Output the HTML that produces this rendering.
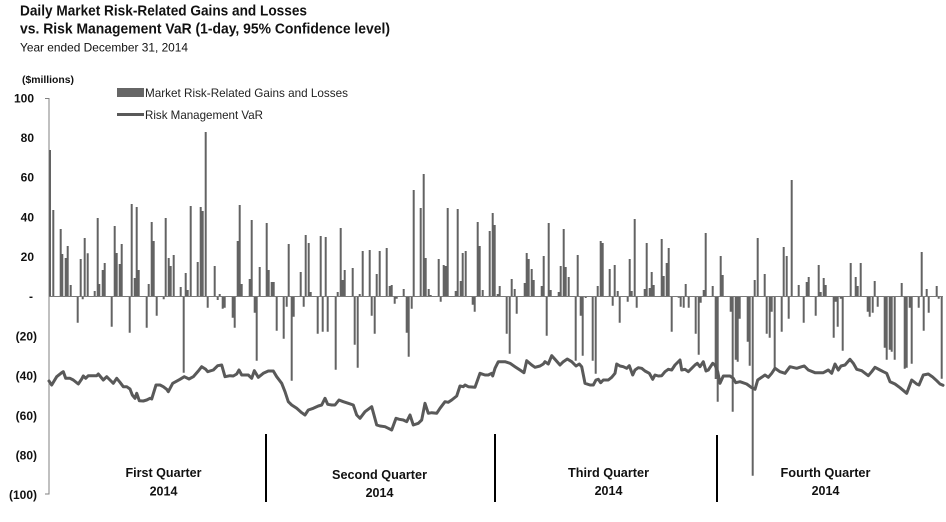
<!DOCTYPE html>
<html><head><meta charset="utf-8"><style>
html,body{margin:0;padding:0;background:#fff;}
svg{display:block;}
text{font-family:"Liberation Sans",Arial,sans-serif;}
</style></head><body>
<svg width="946" height="522" viewBox="0 0 946 522" xmlns="http://www.w3.org/2000/svg">
<rect width="946" height="522" fill="#fff"/>
<!-- Titles -->
<text x="20" y="15.5" font-size="14.5" font-weight="bold" fill="#111" textLength="287" lengthAdjust="spacingAndGlyphs">Daily Market Risk-Related Gains and Losses</text>
<text x="20" y="33.5" font-size="14.5" font-weight="bold" fill="#111" textLength="370" lengthAdjust="spacingAndGlyphs">vs. Risk Management VaR (1-day, 95% Confidence level)</text>
<text x="20" y="51.5" font-size="12" fill="#111" textLength="168" lengthAdjust="spacingAndGlyphs">Year ended December 31, 2014</text>
<text x="22" y="83" font-size="10" font-weight="bold" fill="#111" textLength="52" lengthAdjust="spacingAndGlyphs">($millions)</text>
<!-- Y labels -->
<g font-size="12" font-weight="bold" fill="#111" text-anchor="end">
<text x="34" y="102.5">100</text>
<text x="34" y="142">80</text>
<text x="34" y="181.5">60</text>
<text x="34" y="221.5">40</text>
<text x="34" y="261">20</text>
<text x="33" y="300.5">-</text>
<text x="37" y="340.5">(20)</text>
<text x="37" y="380">(40)</text>
<text x="37" y="420">(60)</text>
<text x="37" y="459.5">(80)</text>
<text x="37" y="499">(100)</text>
</g>
<!-- axis -->
<line x1="49" y1="98" x2="49" y2="494.5" stroke="#808080" stroke-width="1"/>
<line x1="45" y1="98.5" x2="49" y2="98.5" stroke="#808080" stroke-width="1"/>
<line x1="45" y1="494" x2="49" y2="494" stroke="#808080" stroke-width="1"/>
<!-- Legend -->
<rect x="117" y="88" width="27" height="9" fill="#666"/>
<text x="145" y="97" font-size="12" fill="#222" textLength="203" lengthAdjust="spacingAndGlyphs">Market Risk-Related Gains and Losses</text>
<line x1="117" y1="114.5" x2="144" y2="114.5" stroke="#595959" stroke-width="3"/>
<text x="145" y="119" font-size="12" fill="#222" textLength="118" lengthAdjust="spacingAndGlyphs">Risk Management VaR</text>
<!-- Bars -->
<path fill="none" stroke="#636363" stroke-width="2" d="
M50 296V150M53.3 296V210M60.7 296V229M62.3 296V254M65.7 296V258M67.7 296V246M70.7 296V285M77.7 296V322.7M80.7 296V259M82.7 296V299.3M84.7 296V238M87.7 296V253.3M94.7 296V291M97.7 296V218M99.3 296V284M102.7 296V270M104.7 296V263M111.7 296V326.7M114.7 296V226M116.7 296V253M119.7 296V264M121.7 296V244M129.7 296V332.7M131.7 296V204M134.7 296V278M136.7 296V207M138.7 296V270M146.7 296V327.7M148.7 296V284M151.7 296V222M153.7 296V241M156.7 296V315.7M163.7 296V299.3M165.7 296V218M168.7 296V258M170.7 296V266M173.7 296V255M180.7 296V287M183.7 296V372.7M185.7 296V273M187.7 296V290M190.7 296V206M197.7 296V262M200.7 296V207M202.7 296V211M205.7 296V132M207.7 296V307.7M214.7 296V266M217.7 296V300M219.7 296V294M222.7 296V308.7M224.7 296V307.7M232.7 296V317.7M234.7 296V327.7M237.7 296V241M239.7 296V205M241.7 296V284M249.7 296V279M251.7 296V220M254.7 296V312.7M256.7 296V360.7M259.7 296V267M266.7 296V223M268.7 296V270
M271.7 296V282M273.7 296V282M276.7 296V330.7M283.7 296V338.7M286.7 296V306.7M288.7 296V244M291.7 296V380.7M293.7 296V316.7M300.7 296V272M303.7 296V306.7M305.7 296V235M308.7 296V243M310.7 296V292M317.7 296V333.7M320.7 296V236M322.7 296V331.7M325.7 296V237M327.7 296V331.7M335.7 296V369.7M337.7 296V292M340.7 296V228M342.7 296V280M344.7 296V270M352.7 296V268M354.7 296V344.7M357.7 296V367.7M359.7 296V294M362.7 296V251M369.7 296V250M371.7 296V315.7M374.7 296V333.7M376.7 296V274M379.7 296V251M386.7 296V248M389.7 296V286M391.7 296V285M394.7 296V303.7M396.7 296V298.7M403.7 296V289M406.7 296V332.7M408.7 296V356.7M411.7 296V308.7M413.7 296V190M420.7 296V208M423.7 296V174M425.7 296V258M428.7 296V289M430.7 296V295M438.7 296V259M440.7 296V301.7M443.7 296V265M445.7 296V266M447.7 296V208M455.7 296V291M457.7 296V209M460.7 296V281M462.7 296V253M465.7 296V251M472.7 296V304.7M474.7 296V311.7M477.7 296V222M479.7 296V246M482.7 296V290M489.7 296V231M492.7 296V213M494.7 296V225
M497.7 296V294M499.7 296V286M506.7 296V333.7M509.7 296V353.7M511.7 296V279M514.7 296V289M516.7 296V313.7M524.7 296V283M526.7 296V253M528.7 296V259M531.7 296V269M533.7 296V280M541.7 296V286M543.7 296V256M546.7 296V335.7M548.7 296V223M550.7 296V290M558.7 296V292M560.7 296V266M563.7 296V229M565.7 296V267M568.7 296V277M575.7 296V360.7M577.7 296V255M580.7 296V315.7M582.7 296V355.7M585.7 296V298M592.7 296V360.7M595.7 296V373.7M597.7 296V286M600.7 296V241M602.7 296V243M609.7 296V269M612.7 296V305.7M614.7 296V265M617.7 296V291M619.7 296V322.7M627.7 296V301.7M629.7 296V259M631.7 296V291M634.7 296V219M636.7 296V307.7M644.7 296V289M646.7 296V243M649.7 296V288M651.7 296V272M653.7 296V285M661.7 296V239M663.7 296V276M666.7 296V263M668.7 296V248M671.7 296V331.7M678.7 296V297.7M680.7 296V306.7M683.7 296V307.7M685.7 296V284M688.7 296V307.7M695.7 296V333.7M698.7 296V354.7M700.7 296V302.7M703.7 296V290M705.7 296V233M712.7 296V286M715.7 296V379M717.7 296V401.7
M720.7 296V256M722.7 296V275M730.7 296V311.7M732.7 296V411.7M735.7 296V359.7M737.7 296V361.7M739.7 296V318.7M747.7 296V341.7M749.7 296V365.7M752.7 296V475.7M754.7 296V280M757.7 296V238M764.7 296V274M766.7 296V333.7M769.7 296V337.7M771.7 296V311.7M774.7 296V368.7M781.7 296V331.7M783.7 296V247M786.7 296V256M788.7 296V318.7M791.7 296V180M798.7 296V285M803.7 296V322.7M806.7 296V282M808.7 296V277M815.7 296V315.7M818.7 296V265M820.7 296V292M823.7 296V278M825.7 296V285M833.7 296V337.7M835.7 296V301.7M837.7 296V326.7M840.7 296V298.7M842.7 296V350.7M850.7 296V263M855.7 296V277M857.7 296V286M860.7 296V263M867.7 296V311.7M869.7 296V316.7M872.7 296V312.7M874.7 296V281M877.7 296V306.7M884.7 296V347.7M886.7 296V359.7M889.7 296V349.7M891.7 296V351.7M894.7 296V359.7M901.7 296V283M904.7 296V368.7M906.7 296V367.7M909.7 296V307.7M911.7 296V363.7M918.7 296V307.7M921.7 296V252M923.7 296V330.7M926.7 296V289M928.7 296V312.7M936.7 296V286M938.7 296V298.7M941.7 296V378.7"/>
<!-- zero baseline -->
<line x1="49" y1="296.5" x2="943" y2="296.5" stroke="#7a7a7a" stroke-width="1"/>
<!-- VaR line -->
<polyline fill="none" stroke="#595959" stroke-width="3" stroke-linejoin="round" stroke-linecap="round" points="
49,381 51.7,385 56.7,376.7 61.7,372.7 63.3,371.7 65.7,378.3 70,378.3 73.3,380 78.3,384 81.7,379 83.3,376 85.7,378.3 88.3,375.7 96.7,375.7 98.3,374 103.3,380 106.7,376.7 110,380 113.3,383.3 116.7,378.3 120,382.3 123.3,386.7 126.7,386.7 130,389 132.3,395 135,398.3 136.7,393.3 139.3,400.7 143.3,401 146.7,400 150,398.3 151.7,399 156,385 160,385 163.3,386.7 166.7,389.3 168.3,391.7 172.7,383.3 175.7,381.7 180,379.3 184.3,376.7 189,379 193.3,376.7 198.3,371 201.7,366.7 205.7,369.3 207.7,371.7 213.3,370 217.7,365.7 221.7,365 225,376.7 230,375.7 233.3,376 236.7,374 239,370 241.7,375 245,375 248.3,375 251.7,378.3 254.3,370.7 258.3,377.3 263.3,373.3 268.3,371 273.3,371 276.7,376.7 281.7,383.3 285,391.7 288.3,401.7 291.7,405 296.7,408.3 301.7,412.7 305,415 308.3,410 313.3,408.3 318.3,406 321.7,405 325,398.3 327.7,404.3 331.7,405 335,405 339,400 343.3,401.7 348.3,403.3 353.3,405 356.7,415 360,418.3 365,411.7 371.7,406.7 376.7,425 380,426 385,426.7 388.3,428.3 391.7,430 396,418.3 399.3,419.3 403.3,420 406.7,421.7 410,415 413.3,425 418.3,423.3 421.7,420 425,403.3 428.3,413.3 431.7,412.7 436.7,413.3 440,408.3 445,401.7 448.3,402.3 451.7,400 456.7,396 460,386 463.3,386.7 465,385 468.3,386.7 475,387.3 480,373.3 485,375 488.3,375 491.7,373.3 492.7,376 495,368.3 498.3,361.7 505,361.7 510,363.3 515,366.7 520,370 524,372.7 526.7,360.7 531.7,365 535,367.3 540,366 543.3,364 545,361.7 548.3,364 551.7,355.7 555,359.3 560,365 563.3,361.7 567.3,359 571.7,361.7 576,366 579.3,364 581.7,366.7 585,383.3 590,385 593.3,385 596,380 598.3,379.3 600.7,382.7 603.3,380 608.3,380 611.7,377.3 615,373.3 616.7,364 620,366 623.3,366.7 626.7,368.3 629.3,365.7 632.7,375 635,370 638.3,367.7 641.7,368.3 645,371 649.3,373.3 652.7,379.3 655,375 658.3,376 661.7,375.7 665,371.7 668.3,369.3 671.7,370 675,365 680,360 681.7,370 685,369.3 688.3,371.7 691.7,368.3 695,365 697.3,363.3 700,366.7 703.3,361.7 706,371 708.3,370 712.7,363.3 715,365 717.7,371.7 720,383.3 723.3,376 730,376 733.3,378.3 735.7,382.7 740,381.7 746.7,384 751.7,387.7 755,389.3 757.7,380 761.7,377.3 765,375 768.3,377.3 771.7,373.3 775,368.3 780,371.7 785,373.3 790,366.7 796.7,368.3 801.7,366.7 804.3,366 808.3,370 815,372.7 823.3,372.7 828.3,370 831.7,373.3 835,364 838.3,370 841,366 845,365 850,359.3 853.3,363.3 856.7,369.3 861.7,370.7 868.3,375.7 871.7,371.7 875,367.3 880,370 883.3,371.7 886.7,373.3 890,381.7 895,384 900,387.7 906.7,393.3 911.7,380 916.7,384 919,385 923.3,375 928.3,374 932.3,376.7 936.7,380.7 940,384 943,385.3"/>
<!-- Quarter dividers -->
<g stroke="#000" stroke-width="2">
<line x1="266" y1="434" x2="266" y2="502"/>
<line x1="495" y1="434" x2="495" y2="502"/>
<line x1="717" y1="435" x2="717" y2="502"/>
</g>
<!-- Quarter labels -->
<g font-size="12.5" font-weight="bold" fill="#111" text-anchor="middle">
<text x="163.5" y="477" textLength="76" lengthAdjust="spacingAndGlyphs">First Quarter</text>
<text x="163.5" y="495.5">2014</text>
<text x="379.5" y="479" textLength="95" lengthAdjust="spacingAndGlyphs">Second Quarter</text>
<text x="379.5" y="497">2014</text>
<text x="608.5" y="477" textLength="81" lengthAdjust="spacingAndGlyphs">Third Quarter</text>
<text x="608.5" y="495">2014</text>
<text x="825.5" y="477" textLength="90" lengthAdjust="spacingAndGlyphs">Fourth Quarter</text>
<text x="825.5" y="495">2014</text>
</g>
</svg>
</body></html>
